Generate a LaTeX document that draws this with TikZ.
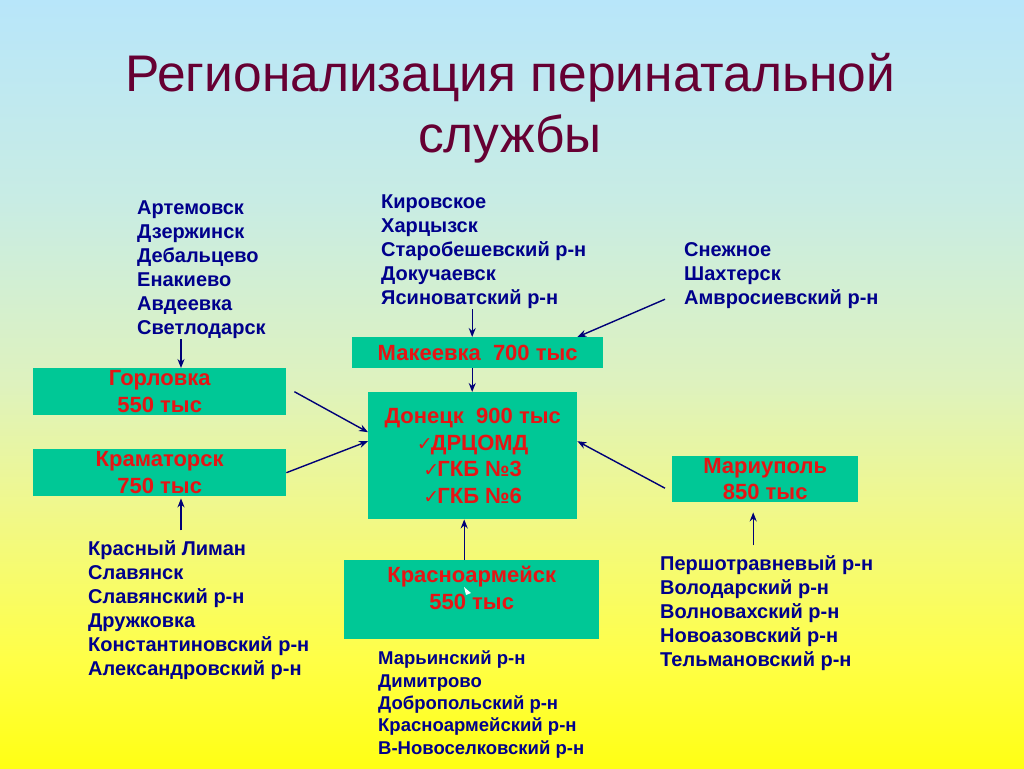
\documentclass[tikz,border=0pt]{standalone}
\usepackage{fontspec}
\setmainfont{Liberation Sans}
\newfontfamily\chkfont{DejaVu Sans}
\usetikzlibrary{arrows.meta,calc}
\definecolor{bgtop}{RGB}{184,230,250}
\definecolor{bgq}{RGB}{200,236,228}
\definecolor{bgmid}{RGB}{222,242,190}
\definecolor{bgq3}{RGB}{240,248,140}
\definecolor{bgq4}{RGB}{255,255,70}
\definecolor{bgbot}{RGB}{255,255,20}
\definecolor{boxgreen}{RGB}{0,200,150}
\definecolor{boxred}{RGB}{230,20,20}
\definecolor{navy}{RGB}{0,0,140}
\definecolor{arrowblue}{RGB}{0,0,120}
\definecolor{titlecol}{RGB}{102,0,51}
\pgfdeclareverticalshading{bgshade}{100bp}{color(0bp)=(bgbot); color(25bp)=(bgbot); color(32bp)=(bgq4); color(42bp)=(bgq3); color(50bp)=(bgmid); color(62bp)=(bgq); color(75bp)=(bgtop); color(100bp)=(bgtop)}
\newcommand{\ck}{{\chkfont\fontsize{19}{19}\selectfont ✓}}
\tikzset{
  box/.style={fill=boxgreen, draw=none, inner sep=0pt, align=center, text=boxred,
    font=\fontsize{22}{26.5}\selectfont\bfseries},
  boxtxt/.style={inner sep=0pt, align=center, text=boxred,
    font=\fontsize{22}{26.5}\selectfont\bfseries},
  lst/.style={anchor=north west, inner sep=0pt, align=left, text=navy,
    font=\fontsize{20}{24}\selectfont\bfseries},
  arr/.style={-{Stealth[length=9pt,width=7pt]}, line width=1.4pt, draw=arrowblue}
}
\begin{document}
\begin{tikzpicture}[x=1pt,y=-1pt]
\useasboundingbox (0,0) rectangle (1024,768);
\shade[shading=bgshade] (0,0) rectangle (1024,768);

\node[anchor=north, inner sep=0pt, align=center, text=titlecol,
  font=\fontsize{51.5}{61}\selectfont] (title) at (510,53)
  {Регионализация перинатальной\\службы};

% lists
\node[lst] (l1) at (137,201) {Артемовск\\Дзержинск\\Дебальцево\\Енакиево\\Авдеевка\\Светлодарск};
\node[lst] (l2) at (381,195) {Кировское\\Харцызск\\Старобешевский р-н\\Докучаевск\\Ясиноватский р-н};
\node[lst] (l3) at (684,242) {Снежное\\Шахтерск\\Амвросиевский р-н};
\node[lst] (l4) at (88,540) {Красный Лиман\\Славянск\\Славянский р-н\\Дружковка\\Константиновский р-н\\Александровский р-н};
\node[lst, font=\fontsize{18.5}{22.3}\selectfont\bfseries] (l5) at (378,651) {Марьинский р-н\\Димитрово\\Добропольский р-н\\Красноармейский р-н\\В-Новоселковский р-н};
\node[lst] (l6) at (660,555) {Першотравневый р-н\\Володарский р-н\\Волновахский р-н\\Новоазовский р-н\\Тельмановский р-н};

% boxes
\node[box, anchor=north west, minimum width=251pt, minimum height=31pt] (mak) at (352,337) {Макеевка~~700 тыс};
\node[box, anchor=north west, minimum width=209pt, minimum height=127pt] (don) at (368,392)
  {Донецк~~900 тыс\\\ck\kern-2pt ДРЦОМД\\\ck\kern-2pt ГКБ №3\\\ck\kern-2pt ГКБ №6};
\node[box, anchor=north west, minimum width=253pt, minimum height=47pt] (gor) at (33,368) {Горловка\\550 тыс};
\node[box, anchor=north west, minimum width=253pt, minimum height=47pt] (kram) at (33,449) {Краматорск\\750 тыс};
\node[box, anchor=north west, minimum width=186pt, minimum height=46pt] (mar) at (672,456) {Мариуполь\\850 тыс};
\node[box, anchor=north west, minimum width=255pt, minimum height=79pt] (kras) at (344,560) {};
\node[boxtxt] (krasT) at ([yshift=12pt]kras.center) {Красноармейск\\550 тыс};
\fill[white] (464,587) -- (471,593) -- (466,595) -- cycle;

% arrows
\draw[arr] ([xshift=148pt]gor.north west |- l1.south) -- ([xshift=148pt]gor.north west);
\draw[arr] ([xshift=-5.5pt]mak.north |- l2.south) -- ([xshift=-5.5pt]mak.north);
\draw[arr] ([xshift=-19pt,yshift=-24pt]l3.west) -- ([xshift=-26pt]mak.north east);
\draw[arr] ([xshift=-5.5pt]mak.south) -- ([xshift=-5.5pt]mak.south |- don.north);
\draw[arr] ([xshift=8pt]gor.east) -- ([yshift=23.5pt]don.west);
\draw[arr] (kram.east) -- ([yshift=14.5pt]don.west);
\draw[arr] ([xshift=-7pt,yshift=-9pt]mar.west) -- ([yshift=14.5pt]don.east);
\draw[arr] ([xshift=-7.5pt]kras.north) -- ([xshift=-7.5pt]kras.north |- don.south);
\draw[arr] ([xshift=148pt,yshift=-34pt]kram.south west) -- ([xshift=148pt,yshift=-2pt]kram.south west);
\draw[arr] ([xshift=-12pt,yshift=-43pt]mar.south) -- ([xshift=-12pt,yshift=-10pt]mar.south);
\end{tikzpicture}
\end{document}
